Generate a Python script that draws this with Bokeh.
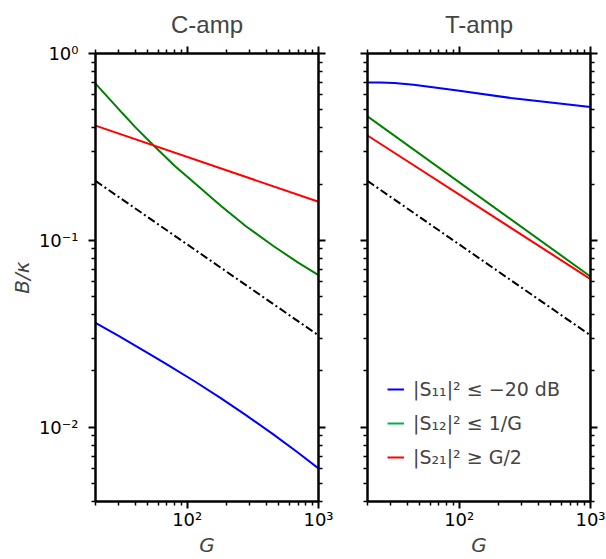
from bokeh.plotting import figure
from bokeh.models import (Range1d, FixedTicker, LogAxis, CustomJSTickFormatter,
                          Legend, LegendItem)
from bokeh.layouts import row
from bokeh.embed import file_html
from bokeh.resources import INLINE

# ---------------- data ----------------
G_ends = [20, 1000]
ref_line = [0.208, 0.031]          # black dash-dot reference, both panels

# C-amp
c_s11_G = [20, 30, 48, 70, 116, 180, 280, 450, 700, 1000]
c_s11 = [0.0362, 0.0308, 0.0254, 0.0217, 0.01745, 0.0143, 0.0116, 0.00918, 0.0073, 0.00601]
c_s12_G = [20, 32, 40, 55, 80, 116, 180, 280, 450, 700, 1000]
c_s12 = [0.69, 0.48, 0.405, 0.324, 0.251, 0.2, 0.153, 0.119, 0.0935, 0.076, 0.0652]
c_s21_G = [20, 1000]
c_s21 = [0.411, 0.161]

# T-amp
t_s11_G = [20, 25, 32, 45, 97, 247, 1000]
t_s11 = [0.70, 0.70, 0.695, 0.68, 0.633, 0.578, 0.517]
t_s12_G = [20, 1000]
t_s12 = [0.461, 0.064]
t_s21_G = [20, 1000]
t_s21 = [0.364, 0.062]

legend_labels = ["|S\u2081\u2081|\u00b2 \u2264 \u221220 dB",
                 "|S\u2081\u2082|\u00b2 \u2264 1/G",
                 "|S\u2082\u2081|\u00b2 \u2265 G/2"]
legend_colors = ["#0000ff", "#00b050", "#ff0000"]

x_major = [10, 100, 1000]
x_minor = [m * d for d in (10, 100) for m in range(2, 10)]
y_major = [0.001, 0.01, 0.1, 1]
y_minor = [m * d for d in (0.001, 0.01, 0.1) for m in range(2, 10)]

fmt_code = """
const e = Math.round(Math.log10(tick));
const sup = {'0':'\u2070','1':'\u00b9','2':'\u00b2','3':'\u00b3','-':'\u207b'};
return '10' + String(e).split('').map(c => sup[c]).join('');
"""

FRAME_W, FRAME_H = 223, 449
TOP, BOTTOM = 52, 58


def style_axis(ax, ticker, labels):
    ax.ticker = ticker
    ax.axis_line_width = 2.5
    ax.axis_line_color = "black"
    ax.major_tick_line_width = 2
    ax.minor_tick_line_width = 1.5
    ax.major_tick_out = 7
    ax.major_tick_in = 0
    ax.minor_tick_out = 4
    ax.minor_tick_in = 0
    ax.major_label_text_font = "DejaVu Sans"
    ax.major_label_text_font_size = "18px"
    ax.major_label_text_color = "black"
    if labels:
        ax.formatter = CustomJSTickFormatter(code=fmt_code)
    else:
        ax.formatter = CustomJSTickFormatter(code="return '';")
        ax.major_label_text_alpha = 0
        ax.major_label_standoff = 0


def make_fig(title, ylabels, mb_left, mb_right):
    p = figure(x_axis_type="log", y_axis_type="log",
               x_range=Range1d(20, 1000), y_range=Range1d(0.004, 1),
               width=mb_left + FRAME_W + mb_right, height=TOP + FRAME_H + BOTTOM,
               min_border_left=mb_left, min_border_right=mb_right,
               min_border_top=TOP, min_border_bottom=BOTTOM,
               output_backend="svg", toolbar_location=None,
               title=title)
    p.title.align = "center"
    p.title.text_font = "Liberation Sans"
    p.title.text_font_size = "24px"
    p.title.text_font_style = "normal"
    p.title.standoff = 17
    p.grid.visible = False
    p.outline_line_color = None

    xt = FixedTicker(ticks=x_major, minor_ticks=x_minor)
    yt = FixedTicker(ticks=y_major, minor_ticks=y_minor)

    xa = p.xaxis[0]
    style_axis(xa, xt, True)
    xa.major_label_standoff = 0
    xa.axis_label = "G"
    xa.axis_label_text_font = "DejaVu Sans"
    xa.axis_label_text_font_size = "20px"
    xa.axis_label_text_font_style = "italic"
    xa.axis_label_standoff = 0

    ya = p.yaxis[0]
    style_axis(ya, yt, ylabels)
    if ylabels:
        ya.major_label_standoff = 10
        ya.axis_label = "B/\u03ba"
        ya.axis_label_text_font = "DejaVu Sans"
        ya.axis_label_text_font_size = "20px"
        ya.axis_label_text_font_style = "italic"
        ya.axis_label_standoff = 2

    top = LogAxis()
    style_axis(top, FixedTicker(ticks=x_major, minor_ticks=x_minor), False)
    p.add_layout(top, "above")
    right = LogAxis()
    style_axis(right, FixedTicker(ticks=y_major, minor_ticks=y_minor), False)
    p.add_layout(right, "right")
    return p


p1 = make_fig("C-amp", True, 95, 20)
p1.line(G_ends, ref_line, color="black", line_width=2, line_dash="8 3 2 3")
p1.line(c_s11_G, c_s11, color="#0000ff", line_width=2)
p1.line(c_s12_G, c_s12, color="#008000", line_width=2)
p1.line(c_s21_G, c_s21, color="#ff0000", line_width=2)

p2 = make_fig("T-amp", False, 29, 16)
p2.line(G_ends, ref_line, color="black", line_width=2, line_dash="8 3 2 3")
p2.line(t_s11_G, t_s11, color="#0000ff", line_width=2)
p2.line(t_s12_G, t_s12, color="#008000", line_width=2)
p2.line(t_s21_G, t_s21, color="#ff0000", line_width=2)

items = []
for lab, col in zip(legend_labels, legend_colors):
    r = p2.line(x=[50, 50], y=[2, 2], color=col, line_width=2)
    items.append(LegendItem(label=lab, renderers=[r]))
leg = Legend(items=items, location=(20, 33))
leg.padding = 0
leg.margin = 0
leg.border_line_alpha = 0
leg.background_fill_alpha = 0
leg.label_text_font = "DejaVu Sans"
leg.label_text_font_size = "19px"
leg.glyph_width = 17
leg.glyph_height = 20
leg.label_height = 20
leg.spacing = 12
leg.label_standoff = 9
p2.add_layout(leg)

layout = row(p1, p2)
open("out.html", "w").write(file_html(layout, INLINE))
